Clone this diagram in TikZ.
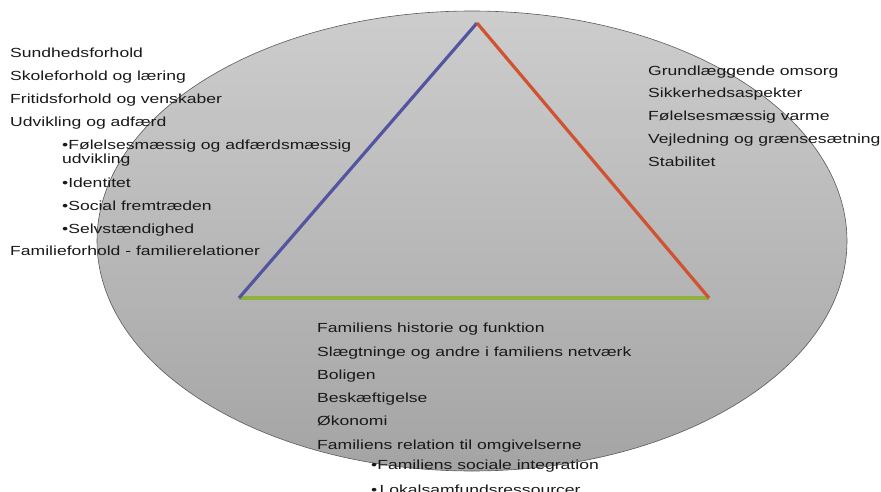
\documentclass[tikz,border=0pt]{standalone}
\usepackage{fontspec}
\setmainfont{Liberation Sans}[FakeStretch=1.33]
\definecolor{childside}{RGB}{84,84,160}
\definecolor{careside}{RGB}{208,82,48}
\definecolor{familyside}{RGB}{144,176,64}
\definecolor{itemtext}{RGB}{25,25,25}
\tikzset{
	item/.style={anchor=base west, inner sep=0pt, text=itemtext, font=\fontsize{13.2}{15}\selectfont},
	side/.style={line width=3.2pt}
}

\begin{document}
\begin{tikzpicture}[x=1pt,y=1pt]
	\useasboundingbox (0,0) rectangle (881,-492);
	\draw[black!65, line width=0.6pt, top color={rgb,255:red,205;green,205;blue,205}, bottom color={rgb,255:red,164;green,164;blue,164}] (472,-241) ellipse (375 and 230);
	\coordinate (apex) at (477,-23);
	\coordinate (bl) at (239,-298);
	\coordinate (br) at (709,-298);
	\draw[side, familyside] (bl) -- (br);
	\draw[side, childside] (bl) -- (apex);
	\draw[side, careside] (apex) -- (br);
	% left side
	\node[item] (c1) at (10,-57.5){Sundhedsforhold};
	\node[item] (c2) at (10,-80.5){Skoleforhold og læring};
	\node[item] (c3) at (10,-103.5){Fritidsforhold og venskaber};
	\node[item] (c4) at (10,-126.5){Udvikling og adfærd};
	\node[item] (c5) at (62,-149.5){•Følelsesmæssig og adfærdsmæssig};
	\node[item] (c5b) at (62,-164){udvikling};
	\node[item] (c6) at (62,-187.5){•Identitet};
	\node[item] (c7) at (62,-210.5){•Social fremtræden};
	\node[item] (c8) at (62,-233){•Selvstændighed};
	\node[item] (c9) at (10,-255.5){Familieforhold - familierelationer};
	% right side
	\node[item] (p1) at (648,-75.5){Grundlæggende omsorg};
	\node[item] (p2) at (648,-98){Sikkerhedsaspekter};
	\node[item] (p3) at (648,-121){Følelsesmæssig varme};
	\node[item] (p4) at (648,-143.5){Vejledning og grænsesætning};
	\node[item] (p5) at (648,-166.5){Stabilitet};
	% bottom
	\node[item] (f1) at (317,-332.5){Familiens historie og funktion};
	\node[item] (f2) at (317,-356){Slægtninge og andre i familiens netværk};
	\node[item] (f3) at (317,-379){Boligen};
	\node[item] (f4) at (317,-402){Beskæftigelse};
	\node[item] (f5) at (317,-425){Økonomi};
	\node[item] (f6) at (317,-449){Familiens relation til omgivelserne};
	\node[item] (f7) at (371,-469.5){•Familiens sociale integration};
	\node[item] (f8) at (371,-494){•\,Lokalsamfundsressourcer};
\end{tikzpicture}
\end{document}
